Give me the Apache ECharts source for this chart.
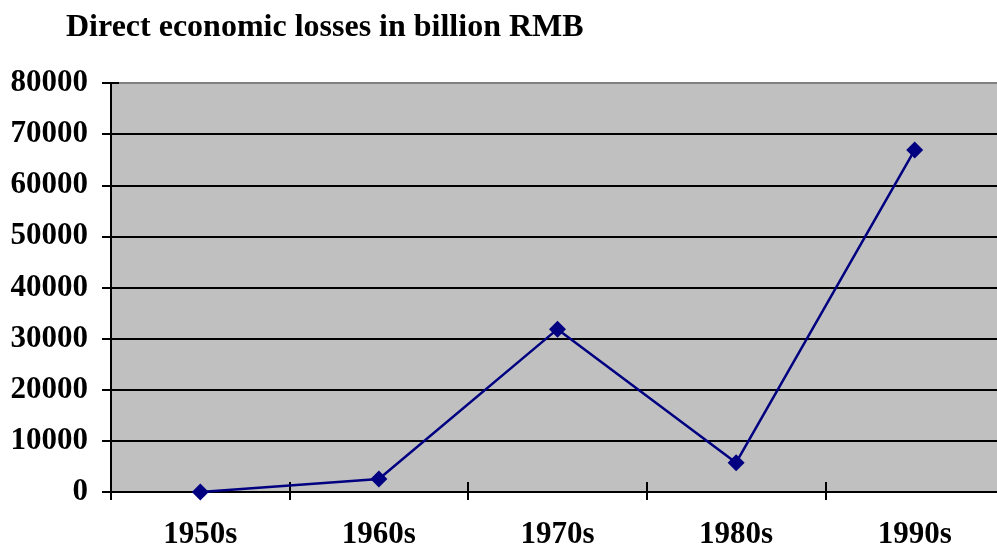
<!DOCTYPE html>
<html><head><meta charset="utf-8">
<script src="https://cdn.jsdelivr.net/npm/echarts@6/dist/echarts.min.js"></script>
<style>html,body{margin:0;padding:0;background:#fff;overflow:hidden;width:997px;height:550px}#c{width:1010px;height:550px}</style>
</head><body><div id="c"></div>
<script>
const categories = ['1950s','1960s','1970s','1980s','1990s'];
const losses = [0, 2540, 31850, 5730, 66900];
const titleText = 'Direct economic losses in billion RMB';
const yMin = 0, yMax = 80000, yStep = 10000;

const font = 'Liberation Serif';
const chart = echarts.init(document.getElementById('c'));
const gridLineColors = [];
for (let v = yMin; v <= yMax; v += yStep) gridLineColors.push(v === yMax ? '#808080' : '#000000');

chart.setOption({
  animation: false,
  backgroundColor: '#ffffff',
  title: {
    text: titleText, left: 61, top: 7,
    textStyle: {fontFamily: font, fontWeight: 'bold', fontSize: 32, color: '#000'}
  },
  grid: {left: 111, right: 6, top: 83, bottom: 58, show: true, backgroundColor: '#C0C0C0', borderColor: '#808080', borderWidth: 1},
  xAxis: [{
    type: 'category', data: categories, boundaryGap: true,
    axisLine: {lineStyle: {color: '#000', width: 2}},
    axisTick: {show: true, inside: false, length: 8, lineStyle: {color: '#000', width: 2}},
    axisLabel: {fontFamily: font, fontWeight: 'bold', fontSize: 31, color: '#000', margin: 27},
    splitLine: {show: false}
  }, {
    type: 'category', data: categories, boundaryGap: true, position: 'bottom',
    axisLine: {show: false},
    axisTick: {show: true, inside: true, length: 10, lineStyle: {color: '#000', width: 2}},
    axisLabel: {show: false}, splitLine: {show: false}
  }],
  yAxis: [{
    type: 'value', min: yMin, max: yMax, interval: yStep,
    axisLine: {show: true, lineStyle: {color: '#000', width: 2}},
    axisTick: {show: true, length: 9, lineStyle: {color: '#000', width: 2}},
    axisLabel: {fontFamily: font, fontWeight: 'bold', fontSize: 31, color: '#000', margin: 23,
      formatter: v => String(v)},
    splitLine: {show: true, lineStyle: {color: gridLineColors, width: 2}}
  }, {
    type: 'value', min: yMin, max: yMax, interval: yStep, position: 'left',
    axisLine: {show: false},
    axisTick: {show: true, inside: true, length: 8, lineStyle: {color: '#000', width: 2}},
    axisLabel: {show: false}, splitLine: {show: false}
  }],
  series: [{
    type: 'line', data: losses, xAxisIndex: 0, yAxisIndex: 0,
    symbol: 'diamond', symbolSize: 17,
    lineStyle: {color: '#000080', width: 2.5},
    itemStyle: {color: '#000080'}
  }]
});
</script></body></html>
